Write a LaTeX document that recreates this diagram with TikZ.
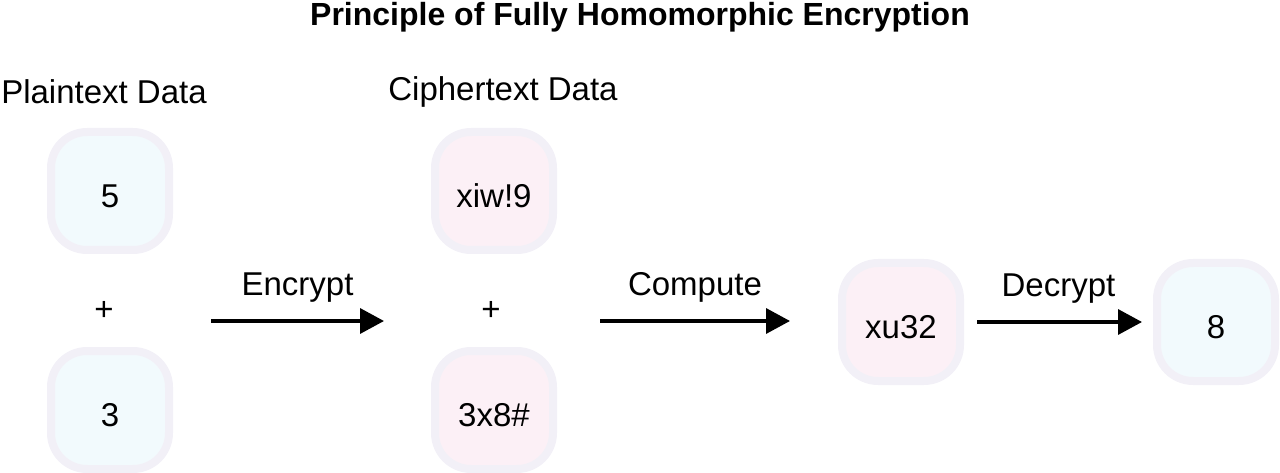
\documentclass[tikz,border=0pt]{standalone}
\usepackage{fontspec}
\setmainfont{Liberation Sans}
\usetikzlibrary{arrows.meta}
\definecolor{rim}{HTML}{F2F0F7}
\definecolor{plainfill}{HTML}{F2FAFD}
\definecolor{cipherfill}{HTML}{FCF0F6}
\newcommand\boxtxt[1]{\raisebox{-5pt}[\height][0pt]{#1}}
\begin{document}
\begin{tikzpicture}[x=1pt,y=-1pt,font=\fontsize{33}{38}\selectfont,
    databox/.style={draw=rim,line width=8pt,rounded corners=36pt,
        minimum width=118pt,minimum height=118pt,inner sep=0pt},
    plainbox/.style={databox,fill=plainfill},
    cipherbox/.style={databox,fill=cipherfill},
    flow/.style={line width=3.5pt,-{Triangle[length=24pt,width=25pt]}}]
    \useasboundingbox (0,0) rectangle (1280,473);
    \node[font=\fontsize{32}{38}\selectfont\bfseries] (title) at (640,17) {Principle of Fully Homomorphic Encryption};
    %===========================================
    \node (plainlbl) at (104,92) {Plaintext Data};
    \node (cipherlbl) at (503,92) {Ciphertext Data};
    \node[plainbox] (five) at (110,191) {\boxtxt{5}};
    \node (plusa) at (104,311) {+};
    \node[plainbox] (three) at (110,410) {\boxtxt{3}};
    \node[cipherbox] (xiw) at (494,191) {\boxtxt{xiw!9}};
    \node (plusb) at (491,311) {+};
    \node[cipherbox] (hash) at (494,410) {\boxtxt{3x8\#}};
    \node[cipherbox] (xu) at (901,322) {\boxtxt{xu32}};
    \node[plainbox] (eight) at (1216,322) {\boxtxt{8}};
    %===========================================
    \coordinate (encs) at (211,321);
    \coordinate (ence) at (384,321);
    \coordinate (comps) at (600,321);
    \coordinate (compe) at (790,321);
    \draw[flow] (encs) -- (ence) node[midway,above=14pt] (enclbl) {Encrypt};
    \draw[flow] (comps) -- (compe) node[midway,above=14pt] (complbl) {Compute};
    \draw[flow,shorten <=13pt,shorten >=11pt] (xu) -- (eight) node[midway,above=14pt] (declbl) {Decrypt};
\end{tikzpicture}
\end{document}
